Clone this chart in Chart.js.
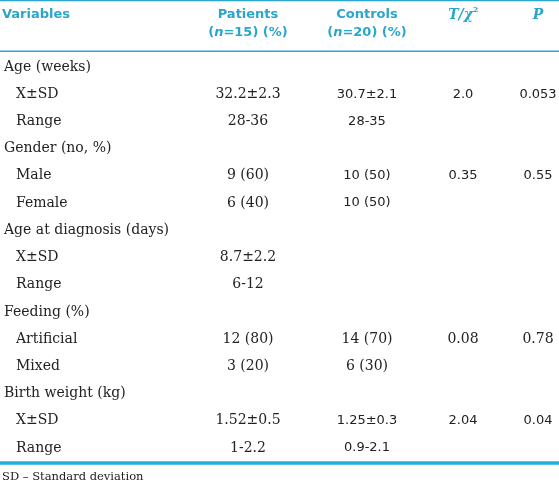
<!DOCTYPE html>
<html>
<head>
<meta charset="utf-8">
<script src="https://cdn.jsdelivr.net/npm/chart.js@4"></script>
<style>
  html, body { margin: 0; padding: 0; background: #fff; }
  #wrap { width: 559px; height: 484px; }
</style>
</head>
<body>
<div id="wrap"><canvas id="chart-table" width="559" height="484"></canvas></div>
<script>
// table content
var variables = ["Age (weeks)", "X\u00b1SD", "Range", "Gender (no, %)", "Male", "Female",
  "Age at diagnosis (days)", "X\u00b1SD", "Range", "Feeding (%)", "Artificial", "Mixed",
  "Birth weight (kg)", "X\u00b1SD", "Range"];
var groupRows = [0, 3, 6, 9, 12];
var patients = ["", "32.2\u00b12.3", "28-36", "", "9 (60)", "6 (40)", "", "8.7\u00b12.2", "6-12",
  "", "12 (80)", "3 (20)", "", "1.52\u00b10.5", "1-2.2"];
var controls = ["", "30.7\u00b12.1", "28-35", "", "10 (50)", "10 (50)", "", "", "",
  "", "14 (70)", "6 (30)", "", "1.25\u00b10.3", "0.9-2.1"];
var tChi = ["", "2.0", "", "", "0.35", "", "", "", "", "", "0.08", "", "", "2.04", ""];
var pValues = ["", "0.053", "", "", "0.55", "", "", "", "", "", "0.78", "", "", "0.04", ""];
var footnote = "SD \u2013 Standard deviation";

// rows where the right hand columns are set in the sans face
var sansRows = [1, 2, 4, 5, 13, 14];

var teal = "#2aa5cc";
var ink = "#222222";
var serif = "'DejaVu Serif', 'Liberation Serif', serif";
var sans = "'DejaVu Sans', sans-serif";

// column anchors in x-scale units
var col = { variable: 4, sub: 16, patients: 248, controls: 367, t: 463, p: 538 };

function txt(ctx, s, x, y, font, color, align) {
  ctx.font = font;
  ctx.fillStyle = color;
  ctx.textAlign = align || "center";
  ctx.textBaseline = "middle";
  ctx.fillText(s, x, y);
}

var tablePlugin = {
  id: "tablePlugin",
  afterDraw: function (chart) {
    var ctx = chart.ctx;
    var xs = chart.scales.x;
    var ys = chart.scales.y;
    var X = function (v) { return xs.getPixelForValue(v); };
    var Y = function (v) { return ys.getPixelForValue(v); };
    ctx.save();

    // rules
    ctx.strokeStyle = teal;
    ctx.lineWidth = 1.5;
    ctx.beginPath();
    ctx.moveTo(X(0), Y(-2.44)); ctx.lineTo(X(559), Y(-2.44));
    ctx.moveTo(X(0), Y(-0.58)); ctx.lineTo(X(559), Y(-0.58));
    ctx.stroke();
    ctx.strokeStyle = "#22b0dc";
    ctx.lineWidth = 3.5;
    ctx.beginPath();
    ctx.moveTo(X(0), Y(14.55)); ctx.lineTo(X(559), Y(14.55));
    ctx.stroke();

    // header
    var hb = "bold 13px " + sans;
    var h1 = Y(-1.91), h2 = Y(-1.25);
    txt(ctx, "Variables", X(col.variable) - 2, h1, hb, teal, "left");
    txt(ctx, "Patients", X(col.patients), h1, hb, teal);
    txt(ctx, "Controls", X(col.controls), h1, hb, teal);
    // (n=15) (%) with italic n
    [["15", col.patients], ["20", col.controls]].forEach(function (c) {
      var a = "(", b = "=" + c[0] + ") (%)";
      ctx.font = "italic bold 13px " + sans;
      var wn = ctx.measureText("n").width;
      ctx.font = hb;
      var wa = ctx.measureText(a).width, wb = ctx.measureText(b).width;
      var x0 = X(c[1]) - (wa + wn + wb) / 2;
      txt(ctx, a, x0, h2, hb, teal, "left");
      txt(ctx, "n", x0 + wa, h2, "italic bold 13px " + sans, teal, "left");
      txt(ctx, b, x0 + wa + wn, h2, hb, teal, "left");
    });
    // T/chi^2
    ctx.font = "italic bold 14px " + serif;
    var wt = ctx.measureText("T/\u03c7").width;
    var tx = X(col.t) - (wt + 5) / 2;
    txt(ctx, "T/\u03c7", tx, h1, "italic bold 14px " + serif, teal, "left");
    txt(ctx, "2", tx + wt, h1 - 5, "bold 8px " + serif, teal, "left");
    txt(ctx, "P", X(col.p), h1, "italic bold 14px " + serif, teal);

    // body
    var bodySerif = "14px " + serif;
    var bodySans = "13px " + sans;
    variables.forEach(function (name, i) {
      var y = Y(i);
      var isGroup = groupRows.indexOf(i) >= 0;
      txt(ctx, name, X(isGroup ? col.variable : col.sub), y, bodySerif, ink, "left");
      var f = sansRows.indexOf(i) >= 0 ? bodySans : bodySerif;
      if (patients[i]) txt(ctx, patients[i], X(col.patients), y, bodySerif, ink);
      if (controls[i]) txt(ctx, controls[i], X(col.controls), y, f, ink);
      if (tChi[i]) txt(ctx, tChi[i], X(col.t), y, f, ink);
      if (pValues[i]) txt(ctx, pValues[i], X(col.p), y, f, ink);
    });

    txt(ctx, footnote, X(col.variable) - 2, Y(15.08), "11.5px " + serif, ink, "left");
    ctx.restore();
  }
};

new Chart(document.getElementById("chart-table"), {
  type: "scatter",
  data: { datasets: [{ data: [], pointRadius: 0 }] },
  options: {
    responsive: false,
    animation: false,
    events: [],
    layout: { padding: 0 },
    plugins: { legend: { display: false }, tooltip: { enabled: false } },
    scales: {
      x: { type: "linear", display: false, min: 0, max: 559 },
      y: { type: "linear", display: false, reverse: true, min: -2.462, max: 15.323 }
    }
  },
  plugins: [tablePlugin]
});
</script>
</body>
</html>
